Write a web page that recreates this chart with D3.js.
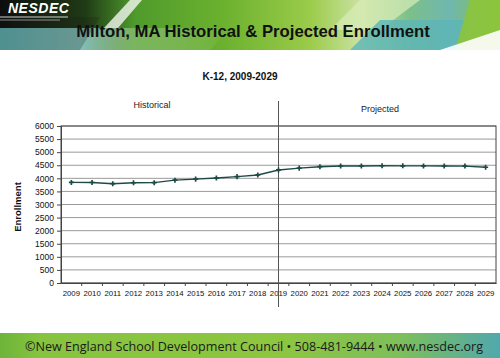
<!DOCTYPE html>
<html><head><meta charset="utf-8">
<script src="https://cdn.jsdelivr.net/npm/d3@7"></script>
<style>body{margin:0;background:#fff}svg{display:block}</style>
</head><body>
<svg id="c" width="500" height="358"></svg>
<script>
const years = ["2009","2010","2011","2012","2013","2014","2015","2016","2017","2018","2019","2020","2021","2022","2023","2024","2025","2026","2027","2028","2029"];
const enrollment = [3845,3840,3795,3830,3835,3930,3970,4010,4065,4130,4320,4390,4445,4470,4470,4480,4478,4475,4470,4468,4425];
const yTicks = [0,500,1000,1500,2000,2500,3000,3500,4000,4500,5000,5500,6000];
const title = "Milton, MA Historical & Projected Enrollment";
const subtitle = "K-12, 2009-2029";
const footer = "©New England School Development Council • 508-481-9444 • www.nesdec.org";
const dividerYear = "2019";

const svg = d3.select("#c");
const defs = svg.append("defs");

// Banner
const bg = defs.append("linearGradient").attr("id","bannerG").attr("x1",0).attr("x2",1).attr("y1",0).attr("y2",0);
[[0,"#0d0d0d"],[0.17,"#1f3a16"],[0.27,"#4f9a2c"],[0.45,"#6cb22f"],[0.62,"#9bcb4a"],[0.72,"#c9e2a0"],[0.82,"#7cbf8a"],[0.9,"#6fb7b0"],[1,"#8cc43c"]]
  .forEach(s=>bg.append("stop").attr("offset",s[0]).attr("stop-color",s[1]));
const tg = defs.append("linearGradient").attr("id","tealG").attr("x1",0).attr("x2",1);
[[0,"#5fb8b6",1],[0.35,"#8fd0cc",0.9],[0.6,"#b8dca0",0.4],[1,"#ffffff",0]].forEach(s=>tg.append("stop").attr("offset",s[0]).attr("stop-color",s[1]).attr("stop-opacity",s[2]));
const fg = defs.append("linearGradient").attr("id","footG").attr("x1",0).attr("x2",1);
[[0,"#6db43a"],[0.08,"#86c43f"],[0.55,"#8dc63f"],[0.8,"#7dbf5a"],[1,"#4fa8ad"]].forEach(s=>fg.append("stop").attr("offset",s[0]).attr("stop-color",s[1]));

const banner = svg.append("g");
banner.append("rect").attr("x",0).attr("y",0).attr("width",500).attr("height",50).attr("fill","url(#bannerG)");
banner.append("polygon").attr("points","0,28 230,28 210,50 0,50").attr("fill","url(#tealG)");
banner.append("polygon").attr("points","130,0 142,0 118,28 104,28").attr("fill","#ffffff").attr("opacity",0.75);
banner.append("polygon").attr("points","0,17 100,17 80,50 0,50").attr("fill","#1a1a1a").attr("opacity",0.25);
banner.append("polygon").attr("points","360,0 420,0 380,30 330,30").attr("fill","#d8ecb8").attr("opacity",0.7);
banner.append("polygon").attr("points","380,20 470,20 460,50 350,50").attr("fill","#5cb5b8").attr("opacity",0.8);
banner.append("polygon").attr("points","470,0 500,0 500,50 455,50").attr("fill","#8cc43c").attr("opacity",0.9);
banner.append("polygon").attr("points","440,50 500,30 500,50").attr("fill","#ffffff").attr("opacity",0.9);
banner.append("text").attr("x",8).attr("y",13).attr("fill","#fff").attr("font-family","Liberation Sans, Arial, sans-serif")
  .attr("font-weight","bold").attr("font-style","italic").attr("font-size",14).attr("letter-spacing",0.5).text("NESDEC");
banner.append("line").attr("x1",0).attr("x2",68).attr("y1",17).attr("y2",17).attr("stroke","#fff").attr("stroke-width",0.8);
banner.append("line").attr("x1",0).attr("x2",60).attr("y1",20).attr("y2",20).attr("stroke","#ddd").attr("stroke-width",0.6);
banner.append("text").attr("x",253).attr("y",37).attr("text-anchor","middle").attr("fill","#111")
  .attr("font-family","Liberation Sans, Arial, sans-serif").attr("font-weight","bold").attr("font-size",16.7).text(title);

// Footer
svg.append("rect").attr("x",0).attr("y",333).attr("width",500).attr("height",25).attr("fill","url(#footG)");
svg.append("text").attr("x",25).attr("y",351).attr("fill","#1a1a1a")
  .attr("font-family","Open Sans, Noto Sans, sans-serif").attr("font-size",12.3)
  .attr("textLength",458).attr("lengthAdjust","spacingAndGlyphs").text(footer);

// Chart
const L=61, R=496, T=126, B=283;
const x = d3.scaleBand().domain(years).range([L,R]).padding(0);
const y = d3.scaleLinear().domain([0,6000]).range([B,T]);
const cx = d => x(d)+x.bandwidth()/2;
const font = "Liberation Sans, Arial, sans-serif";

const g = svg.append("g");
g.selectAll("line.grid").data(yTicks).join("line").attr("class","grid")
  .attr("x1",L).attr("x2",R).attr("y1",d=>y(d)).attr("y2",d=>y(d)).attr("stroke","#9a9a9a").attr("stroke-width",1);
g.append("rect").attr("x",L).attr("y",T).attr("width",R-L).attr("height",B-T).attr("fill","none").attr("stroke","#444").attr("stroke-width",1);

const yAxis = g.append("g").attr("transform",`translate(${L},0)`)
  .call(d3.axisLeft(y).tickValues(yTicks).tickSize(4).tickPadding(3).tickFormat(d3.format("d")));
yAxis.select(".domain").attr("stroke","#444");
yAxis.selectAll("line").attr("stroke","#444");
yAxis.selectAll("text").attr("font-family",font).attr("font-size",8.5).attr("fill","#111");

const xAxis = g.append("g").attr("transform",`translate(0,${B})`)
  .call(d3.axisBottom(x).tickSize(0).tickPadding(7));
xAxis.select(".domain").attr("stroke","#444");
xAxis.selectAll("text").attr("font-family",font).attr("font-size",7.8).attr("fill","#111");
g.selectAll("line.xt").data(years.slice(1)).join("line").attr("class","xt")
  .attr("x1",d=>x(d)).attr("x2",d=>x(d)).attr("y1",B).attr("y2",B+3).attr("stroke","#444");

// divider
g.append("line").attr("x1",cx(dividerYear)).attr("x2",cx(dividerYear)).attr("y1",101).attr("y2",307).attr("stroke","#555").attr("stroke-width",1);

// line
const data = years.map((yr,i)=>({yr, v:enrollment[i]}));
g.append("path").datum(data).attr("fill","none").attr("stroke","#1d4a45").attr("stroke-width",1.4)
  .attr("d", d3.line().x(d=>cx(d.yr)).y(d=>y(d.v)));
g.selectAll("path.m").data(data).join("path").attr("class","m")
  .attr("transform",d=>`translate(${cx(d.yr)},${y(d.v)})`)
  .attr("d", d3.symbol().type(d3.symbolCross).size(14)).attr("fill","#1d4a45");

// labels
svg.append("text").attr("x",240).attr("y",80).attr("text-anchor","middle").attr("font-family",font).attr("font-weight","bold").attr("font-size",10).attr("fill","#111").text(subtitle);
svg.append("text").attr("x",152).attr("y",108).attr("text-anchor","middle").attr("font-family",font).attr("font-size",9).attr("fill","#222").text("Historical");
svg.append("text").attr("x",380).attr("y",112).attr("text-anchor","middle").attr("font-family",font).attr("font-size",9).attr("fill","#222").text("Projected");
svg.append("text").attr("transform","translate(21,207) rotate(-90)").attr("text-anchor","middle").attr("font-family",font).attr("font-weight","bold").attr("font-size",9.5).attr("fill","#111").text("Enrollment");
</script>
</body></html>
